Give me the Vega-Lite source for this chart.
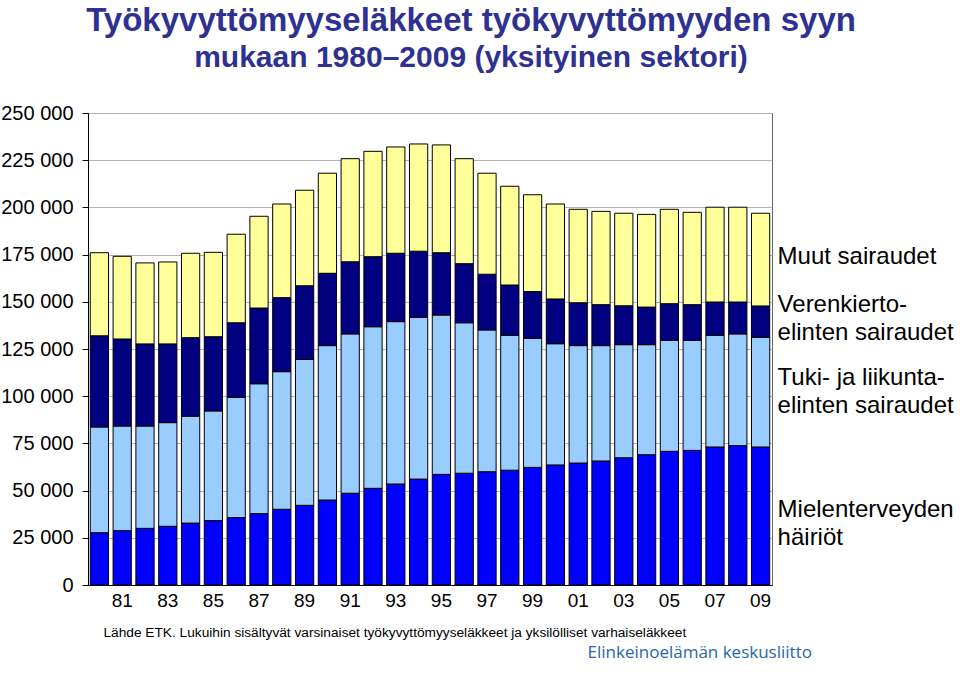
{
  "$schema": "https://vega.github.io/schema/vega-lite/v6.json",
  "width": 684,
  "height": 472,
  "autosize": {"type": "none"},
  "padding": {"left": 88, "top": 113, "right": 188, "bottom": 95},
  "background": "white",
  "config": {
    "font": "Liberation Sans",
    "view": {"stroke": "#666666", "strokeWidth": 1}
  },
  "title": {
    "text": "Työkyvyttömyyseläkkeet työkyvyttömyyden syyn",
    "subtitle": "mukaan 1980–2009 (yksityinen sektori)",
    "anchor": "middle",
    "frame": "group",
    "dx": 41,
    "offset": 30,
    "font": "Liberation Sans",
    "fontSize": 33,
    "fontWeight": "bold",
    "color": "#2E3192",
    "subtitleFont": "Liberation Sans",
    "subtitleFontSize": 30,
    "subtitleFontWeight": "bold",
    "subtitleColor": "#2E3192",
    "subtitlePadding": 5
  },
  "data": {
    "values": [
      {"year": 1980, "Mielenterveyden häiriöt": 27700, "Tuki- ja liikuntaelinten sairaudet": 56000, "Verenkiertoelinten sairaudet": 48300, "Muut sairaudet": 44000},
      {"year": 1981, "Mielenterveyden häiriöt": 28800, "Tuki- ja liikuntaelinten sairaudet": 55400, "Verenkiertoelinten sairaudet": 46100, "Muut sairaudet": 43800},
      {"year": 1982, "Mielenterveyden häiriöt": 30000, "Tuki- ja liikuntaelinten sairaudet": 54200, "Verenkiertoelinten sairaudet": 43500, "Muut sairaudet": 42900},
      {"year": 1983, "Mielenterveyden häiriöt": 31100, "Tuki- ja liikuntaelinten sairaudet": 54900, "Verenkiertoelinten sairaudet": 41700, "Muut sairaudet": 43400},
      {"year": 1984, "Mielenterveyden häiriöt": 32800, "Tuki- ja liikuntaelinten sairaudet": 56600, "Verenkiertoelinten sairaudet": 41600, "Muut sairaudet": 44700},
      {"year": 1985, "Mielenterveyden häiriöt": 34100, "Tuki- ja liikuntaelinten sairaudet": 58100, "Verenkiertoelinten sairaudet": 39300, "Muut sairaudet": 44700},
      {"year": 1986, "Mielenterveyden häiriöt": 35700, "Tuki- ja liikuntaelinten sairaudet": 63700, "Verenkiertoelinten sairaudet": 39500, "Muut sairaudet": 46900},
      {"year": 1987, "Mielenterveyden häiriöt": 37800, "Tuki- ja liikuntaelinten sairaudet": 68800, "Verenkiertoelinten sairaudet": 40100, "Muut sairaudet": 48600},
      {"year": 1988, "Mielenterveyden häiriöt": 40100, "Tuki- ja liikuntaelinten sairaudet": 72900, "Verenkiertoelinten sairaudet": 39200, "Muut sairaudet": 49600},
      {"year": 1989, "Mielenterveyden häiriöt": 42200, "Tuki- ja liikuntaelinten sairaudet": 77300, "Verenkiertoelinten sairaudet": 39000, "Muut sairaudet": 50600},
      {"year": 1990, "Mielenterveyden häiriöt": 45000, "Tuki- ja liikuntaelinten sairaudet": 81800, "Verenkiertoelinten sairaudet": 38300, "Muut sairaudet": 53000},
      {"year": 1991, "Mielenterveyden häiriöt": 48600, "Tuki- ja liikuntaelinten sairaudet": 84400, "Verenkiertoelinten sairaudet": 38200, "Muut sairaudet": 54600},
      {"year": 1992, "Mielenterveyden häiriöt": 51200, "Tuki- ja liikuntaelinten sairaudet": 85600, "Verenkiertoelinten sairaudet": 37100, "Muut sairaudet": 55800},
      {"year": 1993, "Mielenterveyden häiriöt": 53500, "Tuki- ja liikuntaelinten sairaudet": 86000, "Verenkiertoelinten sairaudet": 36200, "Muut sairaudet": 56300},
      {"year": 1994, "Mielenterveyden häiriöt": 56100, "Tuki- ja liikuntaelinten sairaudet": 85700, "Verenkiertoelinten sairaudet": 35000, "Muut sairaudet": 56800},
      {"year": 1995, "Mielenterveyden häiriöt": 58600, "Tuki- ja liikuntaelinten sairaudet": 84400, "Verenkiertoelinten sairaudet": 33000, "Muut sairaudet": 57100},
      {"year": 1996, "Mielenterveyden häiriöt": 59200, "Tuki- ja liikuntaelinten sairaudet": 79700, "Verenkiertoelinten sairaudet": 31300, "Muut sairaudet": 55600},
      {"year": 1997, "Mielenterveyden häiriöt": 60000, "Tuki- ja liikuntaelinten sairaudet": 75100, "Verenkiertoelinten sairaudet": 29500, "Muut sairaudet": 53500},
      {"year": 1998, "Mielenterveyden häiriöt": 60800, "Tuki- ja liikuntaelinten sairaudet": 71500, "Verenkiertoelinten sairaudet": 26600, "Muut sairaudet": 52300},
      {"year": 1999, "Mielenterveyden häiriöt": 62300, "Tuki- ja liikuntaelinten sairaudet": 68400, "Verenkiertoelinten sairaudet": 24700, "Muut sairaudet": 51300},
      {"year": 2000, "Mielenterveyden häiriöt": 63600, "Tuki- ja liikuntaelinten sairaudet": 64200, "Verenkiertoelinten sairaudet": 23700, "Muut sairaudet": 50300},
      {"year": 2001, "Mielenterveyden häiriöt": 64600, "Tuki- ja liikuntaelinten sairaudet": 62200, "Verenkiertoelinten sairaudet": 22700, "Muut sairaudet": 49500},
      {"year": 2002, "Mielenterveyden häiriöt": 65700, "Tuki- ja liikuntaelinten sairaudet": 61100, "Verenkiertoelinten sairaudet": 21700, "Muut sairaudet": 49400},
      {"year": 2003, "Mielenterveyden häiriöt": 67400, "Tuki- ja liikuntaelinten sairaudet": 59900, "Verenkiertoelinten sairaudet": 20600, "Muut sairaudet": 49000},
      {"year": 2004, "Mielenterveyden häiriöt": 69000, "Tuki- ja liikuntaelinten sairaudet": 58300, "Verenkiertoelinten sairaudet": 19900, "Muut sairaudet": 49100},
      {"year": 2005, "Mielenterveyden häiriöt": 70800, "Tuki- ja liikuntaelinten sairaudet": 58800, "Verenkiertoelinten sairaudet": 19400, "Muut sairaudet": 50000},
      {"year": 2006, "Mielenterveyden häiriöt": 71300, "Tuki- ja liikuntaelinten sairaudet": 58300, "Verenkiertoelinten sairaudet": 18900, "Muut sairaudet": 48900},
      {"year": 2007, "Mielenterveyden häiriöt": 73100, "Tuki- ja liikuntaelinten sairaudet": 59200, "Verenkiertoelinten sairaudet": 17600, "Muut sairaudet": 50200},
      {"year": 2008, "Mielenterveyden häiriöt": 73800, "Tuki- ja liikuntaelinten sairaudet": 59200, "Verenkiertoelinten sairaudet": 16900, "Muut sairaudet": 50200},
      {"year": 2009, "Mielenterveyden häiriöt": 73100, "Tuki- ja liikuntaelinten sairaudet": 58100, "Verenkiertoelinten sairaudet": 16600, "Muut sairaudet": 49100}
    ]
  },
  "transform": [
    {"fold": ["Mielenterveyden häiriöt", "Tuki- ja liikuntaelinten sairaudet", "Verenkiertoelinten sairaudet", "Muut sairaudet"], "as": ["cause", "value"]},
    {"calculate": "indexof(['Mielenterveyden häiriöt', 'Tuki- ja liikuntaelinten sairaudet', 'Verenkiertoelinten sairaudet', 'Muut sairaudet'], datum.cause)", "as": "ord"}
  ],
  "layer": [
    {
      "mark": {"type": "bar", "stroke": "black", "strokeWidth": 1},
      "encoding": {
        "x": {
          "field": "year",
          "type": "ordinal",
          "scale": {"paddingInner": 0.2, "paddingOuter": 0.1},
          "axis": {
            "labelExpr": "datum.value % 2 == 1 ? slice(toString(datum.value), 2) : ''",
            "labelAngle": 0,
            "labelFontSize": 19,
            "labelColor": "black",
            "labelPadding": 6,
            "labelOverlap": false,
            "ticks": false,
            "domainColor": "black",
            "domainWidth": 1,
            "grid": false,
            "title": "Lähde ETK. Lukuihin sisältyvät varsinaiset työkyvyttömyyseläkkeet ja yksilölliset varhaiseläkkeet",
            "titleFontSize": 13.7,
            "titleFontWeight": "normal",
            "titleColor": "black",
            "titleX": 15,
            "titleY": 47,
            "titleAlign": "left",
            "titleBaseline": "middle"
          }
        },
        "y": {
          "field": "value",
          "type": "quantitative",
          "stack": "zero",
          "scale": {"domain": [0, 250000], "nice": false},
          "axis": {
            "values": [0, 25000, 50000, 75000, 100000, 125000, 150000, 175000, 200000, 225000, 250000],
            "labelExpr": "replace(format(datum.value, ','), ',', ' ')",
            "labelFontSize": 20,
            "labelColor": "black",
            "labelPadding": 9,
            "tickSize": 6,
            "tickColor": "black",
            "domainColor": "black",
            "gridColor": "#b3b3b3",
            "gridWidth": 1,
            "title": "Elinkeinoelämän keskusliitto",
            "titleAngle": 0,
            "titleFont": "Open Sans",
            "titleFontSize": 17,
            "titleFontWeight": "normal",
            "titleColor": "#2767A9",
            "titleX": 499,
            "titleY": 539,
            "titleAlign": "left",
            "titleBaseline": "middle"
          }
        },
        "color": {
          "field": "cause",
          "type": "nominal",
          "scale": {
            "domain": ["Mielenterveyden häiriöt", "Tuki- ja liikuntaelinten sairaudet", "Verenkiertoelinten sairaudet", "Muut sairaudet"],
            "range": ["#0000FF", "#99CCFF", "#000080", "#FFFF99"]
          },
          "legend": null
        },
        "order": {"field": "ord", "type": "quantitative"}
      }
    },
    {
      "transform": [
        {"filter": "datum.year == 2009"},
        {"stack": "value", "groupby": ["year"], "sort": [{"field": "ord", "order": "ascending"}], "as": ["v0", "v1"]},
        {"calculate": "datum.cause == 'Mielenterveyden häiriöt' ? 'Mielenterveyden\\nhäiriöt' : datum.cause == 'Tuki- ja liikuntaelinten sairaudet' ? 'Tuki- ja liikunta-\\nelinten sairaudet' : datum.cause == 'Verenkiertoelinten sairaudet' ? 'Verenkierto-\\nelinten sairaudet' : datum.cause", "as": "label"},
        {"calculate": "(datum.v0 + datum.v1) / 2 + (datum.cause == 'Muut sairaudet' ? 0 : datum.cause == 'Mielenterveyden häiriöt' ? 1800 : datum.cause == 'Tuki- ja liikuntaelinten sairaudet' ? 5800 : 7400)", "as": "labelpos"}
      ],
      "mark": {"type": "text", "align": "left", "baseline": "middle", "dx": 17, "dy": -3, "fontSize": 24, "lineBreak": "\n", "lineHeight": 28, "color": "black"},
      "encoding": {
        "x": {"field": "year", "type": "ordinal"},
        "y": {"field": "labelpos", "type": "quantitative"},
        "text": {"field": "label", "type": "nominal"}
      }
    }
  ]
}
